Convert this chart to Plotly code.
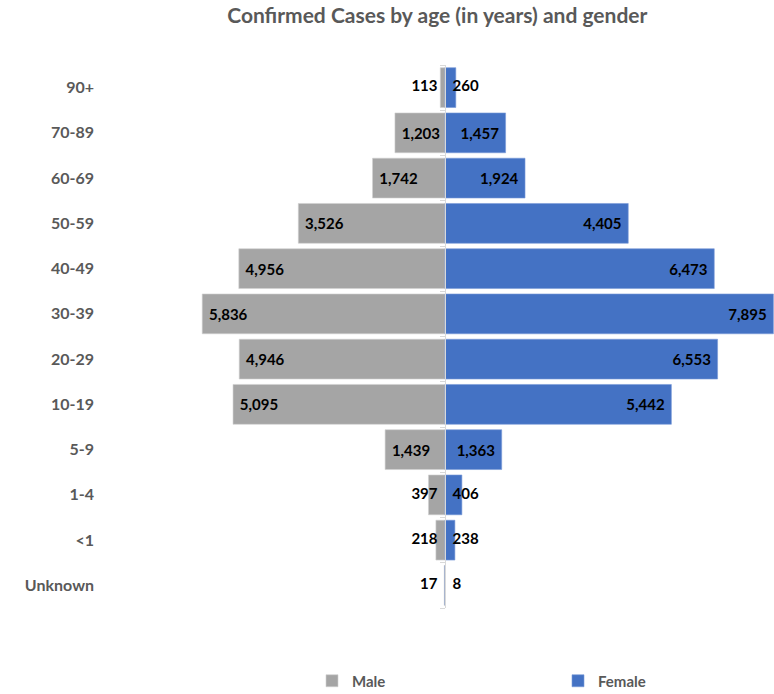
import plotly.graph_objects as go

ages = ["Unknown", "<1", "1-4", "5-9", "10-19", "20-29", "30-39", "40-49", "50-59", "60-69", "70-89", "90+"]
male = [17, 218, 397, 1439, 5095, 4946, 5836, 4956, 3526, 1742, 1203, 113]
female = [8, 238, 406, 1363, 5442, 6553, 7895, 6473, 4405, 1924, 1457, 260]

MALE_C = "#A5A5A5"
FEMALE_C = "#4472C4"
FONT = "Lato"
LABEL_FONT = dict(family=FONT, size=15, color="#000000", weight="bold")
SMALL = 1000  # labels of bars narrower than this sit beside the axis
PAD = "\u2005"


def fmt(v):
    return f"{v:,}"


fig = go.Figure()

fig.add_trace(go.Bar(
    name="Male", y=ages, x=[-v for v in male], orientation="h",
    marker=dict(color=MALE_C, line=dict(color="#D0D0D0", width=0.6)),
    text=[PAD + fmt(v) if v >= SMALL else "" for v in male],
    textposition="inside", insidetextanchor="end", constraintext="none",
    textfont=LABEL_FONT, hoverinfo="skip", legend="legend",
))
fig.add_trace(go.Bar(
    name="Female", y=ages, x=female, orientation="h",
    marker=dict(color=FEMALE_C, line=dict(color="#7A9AD8", width=0.6)),
    text=[fmt(v) + PAD if v >= SMALL else "" for v in female],
    textposition="inside", insidetextanchor="end", constraintext="none",
    textfont=LABEL_FONT, hoverinfo="skip", legend="legend2",
))

# labels for small bars, placed against the zero axis
sm_m = [(a, v) for a, v in zip(ages, male) if v < SMALL]
sm_f = [(a, v) for a, v in zip(ages, female) if v < SMALL]
fig.add_trace(go.Scatter(
    y=[a for a, _ in sm_m], x=[0] * len(sm_m), mode="text",
    text=[fmt(v) + "\u2002" for _, v in sm_m], textposition="middle left",
    textfont=LABEL_FONT, showlegend=False, hoverinfo="skip", cliponaxis=False,
))
fig.add_trace(go.Scatter(
    y=[a for a, _ in sm_f], x=[0] * len(sm_f), mode="text",
    text=["\u2002" + fmt(v) for _, v in sm_f], textposition="middle right",
    textfont=LABEL_FONT, showlegend=False, hoverinfo="skip", cliponaxis=False,
))
# invisible trace to carry the zero axis line with boundary ticks
fig.add_trace(go.Scatter(
    y=ages, x=[0] * len(ages), yaxis="y2", mode="markers",
    marker=dict(opacity=0), showlegend=False, hoverinfo="skip",
))

legend_font = dict(family=FONT, size=15, color="#595959", weight="bold")

fig.update_layout(
    width=774, height=694,
    margin=dict(l=105, r=0, t=65, b=86, autoexpand=False),
    paper_bgcolor="white", plot_bgcolor="white",
    barmode="overlay", bargap=0.12,
    title=dict(
        text="<b>Confirmed Cases by age (in years) and gender</b>",
        font=dict(family=FONT, size=21, color="#595959"),
        x=0.565, xref="container", xanchor="center",
        y=1 - 16 / 694, yref="container", yanchor="middle",
    ),
    xaxis=dict(range=[-8173, 7909], visible=False, fixedrange=True),
    yaxis=dict(
        type="category", categoryorder="array", categoryarray=ages,
        range=[-0.5, len(ages) - 0.5], showgrid=False, zeroline=False,
        ticks="", ticklabelstandoff=10,
        tickfont=dict(family=FONT, size=16, color="#595959", weight="bold"),
    ),
    yaxis2=dict(
        type="category", categoryorder="array", categoryarray=ages,
        range=[-0.5, len(ages) - 0.5], overlaying="y", anchor="free",
        position=340 / 669, side="left", showline=True, linecolor="#D9D9D9",
        linewidth=1, ticks="outside", ticklen=5, tickcolor="#D9D9D9",
        tickson="boundaries", showticklabels=False, showgrid=False,
    ),
    legend=dict(
        orientation="h", x=(312 - 105) / 669, xanchor="left",
        y=(608 - 681) / 543, yanchor="middle", font=legend_font,
    ),
    legend2=dict(
        orientation="h", x=(558 - 105) / 669, xanchor="left",
        y=(608 - 681) / 543, yanchor="middle", font=legend_font,
    ),
    showlegend=True,
)

fig.write_html("out.html")
